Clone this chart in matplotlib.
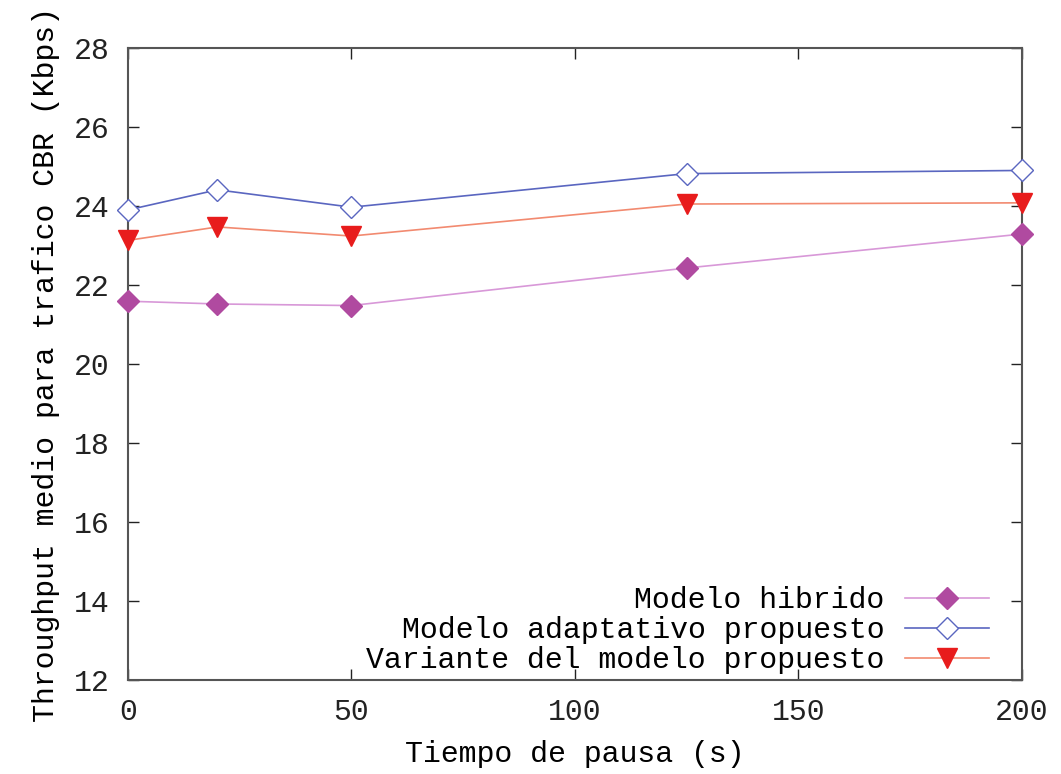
import matplotlib
matplotlib.use("Agg")
import matplotlib.pyplot as plt

pausa = [0, 20, 50, 125, 200]
hibrido = [21.59, 21.52, 21.48, 22.43, 23.29]
adaptativo = [23.90, 24.41, 23.97, 24.82, 24.90]
variante = [23.13, 23.47, 23.24, 24.05, 24.08]

plt.rcParams['font.family'] = ['Liberation Mono', 'DejaVu Sans Mono']
fs = 21.5

fig = plt.figure(figsize=(10.61, 7.74), dpi=100)
ax = fig.add_axes([0.1206, 0.1214, 0.963 - 0.1206, 0.938 - 0.1214])

ax.plot(pausa, hibrido, color="#d898d8", lw=1.2, marker="D", ms=11,
        mfc="#b04aa0", mec="#b04aa0", label="Modelo hibrido", clip_on=False, zorder=3)
ax.plot(pausa, adaptativo, color="#5a66c0", lw=1.2, marker="D", ms=11,
        mfc="white", mec="#5a66c0", mew=1.0, label="Modelo adaptativo propuesto",
        clip_on=False, zorder=3)
ax.plot(pausa, variante, color="#f28a70", lw=1.2, marker="v", ms=15,
        mfc="#e81c1c", mec="#e81c1c", label="Variante del modelo propuesto",
        clip_on=False, zorder=3)

ax.set_xlim(0, 200)
ax.set_ylim(12, 28)
ax.set_xticks([0, 50, 100, 150, 200])
ax.set_yticks(range(12, 29, 2))
ax.tick_params(direction="in", length=8, width=1, top=True, right=True, pad=13,
               colors="#222222", labelsize=fs)
for s in ax.spines.values():
    s.set_color("#555555")
    s.set_linewidth(1.5)

ax.set_xlabel("Tiempo de pausa (s)", fontsize=fs, labelpad=10)
ax.set_ylabel("Throughput medio para trafico CBR (Kbps)", fontsize=fs, labelpad=10)

leg = ax.legend(loc="lower right", frameon=False, markerfirst=False, fontsize=fs,
                handlelength=2.8, handletextpad=0.7, labelspacing=0.06,
                borderaxespad=0.1, bbox_to_anchor=(0.98, -0.014))
for t in leg.get_texts():
    t.set_ha("right")
leg._legend_box.align = "right"

fig.savefig("out.png", dpi=100)
